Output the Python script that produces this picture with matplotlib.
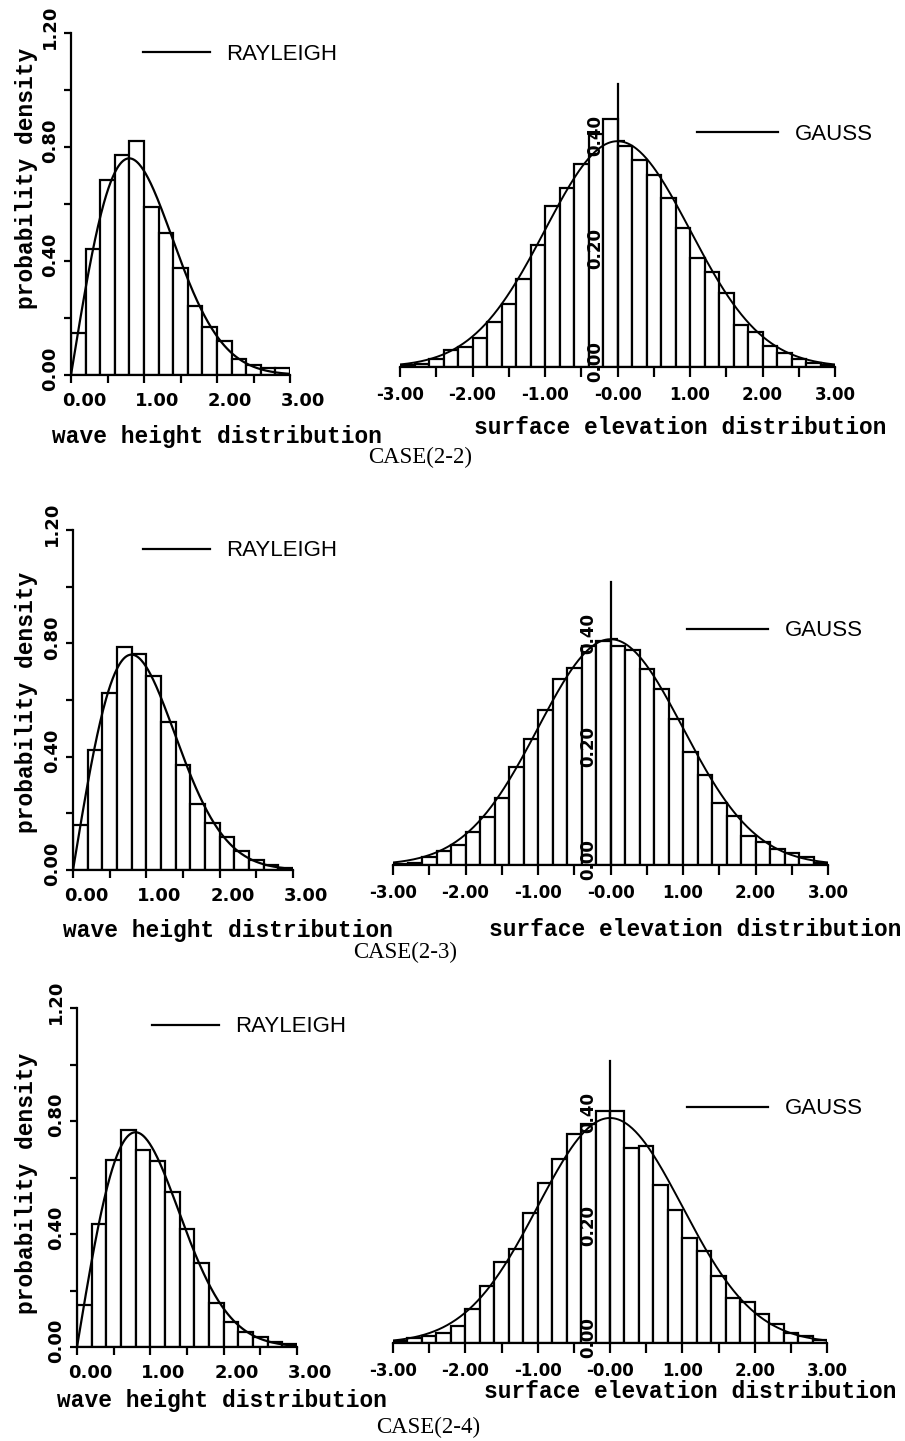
import numpy as np
import matplotlib
matplotlib.use("Agg")
import matplotlib.pyplot as plt
from matplotlib.transforms import offset_copy
from matplotlib.lines import Line2D

# ---------------- data ----------------
wave_bins = [0.0, 0.2, 0.4, 0.6, 0.8, 1.0, 1.2, 1.4, 1.6, 1.8, 2.0, 2.2, 2.4, 2.6, 2.8]
elev_bins = [-3.0, -2.8, -2.6, -2.4, -2.2, -2.0, -1.8, -1.6, -1.4, -1.2,
             -1.0, -0.8, -0.6, -0.4, -0.2, 0.0, 0.2, 0.4, 0.6, 0.8,
             1.0, 1.2, 1.4, 1.6, 1.8, 2.0, 2.2, 2.4, 2.6, 2.8]
bin_width = 0.2

case22_wave = [0.146, 0.441, 0.684, 0.773, 0.820, 0.590, 0.500, 0.375, 0.242,
               0.169, 0.121, 0.056, 0.035, 0.023, 0.023]
case23_wave = [0.159, 0.424, 0.626, 0.788, 0.761, 0.686, 0.521, 0.369, 0.232,
               0.165, 0.118, 0.068, 0.035, 0.018, 0.006]
case24_wave = [0.149, 0.435, 0.662, 0.767, 0.696, 0.659, 0.549, 0.418, 0.296,
               0.155, 0.088, 0.053, 0.035, 0.018, 0.012]

case22_elev = [0.003, 0.006, 0.015, 0.030, 0.035, 0.051, 0.080, 0.111, 0.155, 0.215,
               0.285, 0.316, 0.358, 0.412, 0.439, 0.390, 0.366, 0.340, 0.298, 0.245,
               0.193, 0.167, 0.130, 0.075, 0.062, 0.037, 0.024, 0.015, 0.007, 0.003]
case23_elev = [0.002, 0.004, 0.015, 0.024, 0.035, 0.058, 0.085, 0.119, 0.173, 0.222,
               0.273, 0.328, 0.348, 0.387, 0.395, 0.387, 0.379, 0.346, 0.311, 0.258,
               0.199, 0.159, 0.110, 0.087, 0.052, 0.041, 0.028, 0.022, 0.014, 0.003]
case24_elev = [0.004, 0.008, 0.012, 0.018, 0.031, 0.061, 0.101, 0.144, 0.167, 0.231,
               0.284, 0.327, 0.371, 0.388, 0.411, 0.411, 0.345, 0.350, 0.281, 0.236,
               0.187, 0.163, 0.118, 0.079, 0.072, 0.051, 0.033, 0.017, 0.012, 0.006]

case_titles = ["CASE(2-2)", "CASE(2-3)", "CASE(2-4)"]
wave_xticklabels = ["0.00", "1.00", "2.00", "3.00"]
wave_yticklabels = ["0.00", "0.40", "0.80", "1.20"]
elev_xticklabels = ["-3.00", "-2.00", "-1.00", "-0.00", "1.00", "2.00", "3.00"]
elev_yticklabels = ["0.00", "0.20", "0.40"]

# theoretical reference curves named in the legends
rayleigh_mean = 1.0     # wave height normalised by its mean
gauss_mean, gauss_std = 0.0, 1.0


def rayleigh_pdf(h):
    return (np.pi / 2) * h / rayleigh_mean**2 * np.exp(-np.pi / 4 * (h / rayleigh_mean) ** 2)


def gauss_pdf(z):
    return np.exp(-0.5 * ((z - gauss_mean) / gauss_std) ** 2) / (gauss_std * np.sqrt(2 * np.pi))


# ---------------- layout ----------------
W, H = 905, 1441
fig = plt.figure(figsize=(W / 100, H / 100), dpi=100)
fig.patch.set_facecolor("white")

TICKFONT = dict(family="DejaVu Sans", weight="bold", size=13)
TICKFONT_R = dict(family="DejaVu Sans", weight="bold", size=12)
LABELFONT = dict(family="Liberation Mono", weight="bold", size=16.5)
LEGFONT = dict(family="Liberation Sans", size=16)
CASEFONT = dict(family="Liberation Serif", size=16.5)
LW = 1.6


def px_axes(x0, x1, y0, y1):
    return fig.add_axes([x0 / W, 1 - y0 / H, (x1 - x0) / W, (y0 - y1) / H])


def legend_at(ax, label, xs, y, hl):
    h = Line2D([], [], color="black", lw=LW)
    ax.legend([h], [label], loc="center left", bbox_to_anchor=(xs / W, 1 - y / H),
              bbox_transform=fig.transFigure, frameon=False, borderpad=0,
              borderaxespad=0, handlelength=hl, handletextpad=0.75, prop=LEGFONT)


def wave_panel(box, heights, leg):
    ax = px_axes(*box)
    ax.set_xlim(0, 3)
    ax.set_ylim(0, 1.2)
    ax.bar(wave_bins, heights, width=bin_width, align="edge", facecolor="white",
           edgecolor="black", linewidth=LW, zorder=2)
    xs = np.linspace(0, 3, 300)
    ax.plot(xs, rayleigh_pdf(xs), color="black", lw=LW, zorder=3)
    for s in ["top", "right"]:
        ax.spines[s].set_visible(False)
    for s in ["left", "bottom"]:
        ax.spines[s].set_linewidth(LW)
    ax.set_xticks(np.arange(0, 3.01, 0.5))
    ax.set_yticks(np.arange(0, 1.21, 0.2))
    ax.set_xticklabels([])
    ax.set_yticklabels([])
    ax.tick_params(axis="x", direction="out", length=6, width=LW)
    ax.tick_params(axis="y", direction="out", length=5, width=LW)
    tx = offset_copy(ax.transData, fig, x=13, y=-26, units="dots")
    for v, lab in zip([0, 1, 2, 3], wave_xticklabels):
        ax.text(v, 0, lab, transform=tx, ha="center", va="center", **TICKFONT)
    ty = offset_copy(ax.transData, fig, x=-21, y=6, units="dots")
    for v, lab in zip([0, 0.4, 0.8, 1.2], wave_yticklabels):
        ax.text(0, v, lab, transform=ty, rotation=90, ha="center", va="center", **TICKFONT)
    legend_at(ax, "RAYLEIGH", leg[0], leg[1], 3.0)
    ax.patch.set_alpha(0)
    return ax


def elev_panel(box, heights, leg):
    ax = px_axes(*box)
    ax.set_xlim(-3, 3)
    ax.set_ylim(0, 0.5)
    ax.bar(elev_bins, heights, width=bin_width, align="edge", facecolor="white",
           edgecolor="black", linewidth=LW, zorder=2)
    xs = np.linspace(-3, 3, 400)
    ax.plot(xs, gauss_pdf(xs), color="black", lw=1.4, zorder=3)
    for s in ["top", "right"]:
        ax.spines[s].set_visible(False)
    ax.spines["left"].set_position(("data", 0))
    for s in ["left", "bottom"]:
        ax.spines[s].set_linewidth(LW)
        ax.spines[s].set_zorder(4)
    ax.set_xticks(np.arange(-3, 3.01, 0.5))
    ax.set_yticks([0.1, 0.2, 0.3, 0.4])
    ax.set_xticklabels([])
    ax.set_yticklabels([])
    ax.tick_params(axis="x", direction="out", length=7, width=LW)
    ax.tick_params(axis="y", direction="in", length=5, width=LW)
    tx = offset_copy(ax.transData, fig, x=0, y=-28, units="dots")
    for v, lab in zip([-3, -2, -1, 0, 1, 2, 3], elev_xticklabels):
        ax.text(v, 0, lab, transform=tx, ha="center", va="center", **TICKFONT_R)
    ty = offset_copy(ax.transData, fig, x=-22, y=5, units="dots")
    for v, lab in zip([0, 0.2, 0.4], elev_yticklabels):
        ax.text(0, v, lab, transform=ty, rotation=90, ha="center", va="center",
                zorder=5, **TICKFONT_R)
    legend_at(ax, "GAUSS", leg[0], leg[1], 3.65)
    ax.patch.set_alpha(0)
    return ax


# row 1
wave_panel((71, 290, 375, 33), case22_wave, (143, 54))
elev_panel((400, 835, 367, 84), case22_elev, (697, 134))
# row 2
wave_panel((73, 293, 870, 530), case23_wave, (143, 551))
elev_panel((393, 828, 865, 582), case23_elev, (687, 631))
# row 3
wave_panel((77, 297, 1347, 1008), case24_wave, (152, 1027))
elev_panel((393, 827, 1343, 1061), case24_elev, (687, 1109))


def ftext(x, y, s, **kw):
    fig.text(x / W, 1 - y / H, s, **kw)


for (yc, xw, yw, xs_, ys_, xc, yc2), title in zip(
        [(178, 217, 437, 680, 428, 420, 457),
         (702, 228, 930, 695, 929, 405, 952),
         (1183, 222, 1400, 690, 1391, 428, 1427)], case_titles):
    ftext(27, yc, "probability density", rotation=90, ha="center", va="center", **LABELFONT)
    ftext(xw, yw, "wave height distribution", ha="center", va="center", **LABELFONT)
    ftext(xs_, ys_, "surface elevation distribution", ha="center", va="center", **LABELFONT)
    ftext(xc, yc2, title, ha="center", va="center", **CASEFONT)

fig.savefig("out.png", dpi=100, facecolor="white")
